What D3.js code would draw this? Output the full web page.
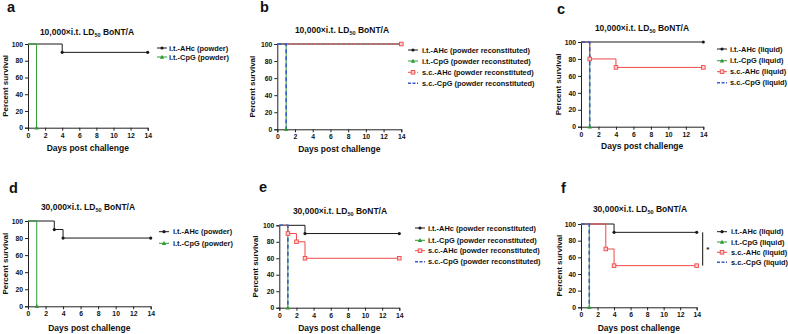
<!DOCTYPE html>
<html><head><meta charset="utf-8">
<script src="https://cdn.jsdelivr.net/npm/d3@7"></script>
<style>
html,body{margin:0;padding:0;background:#fff;}
text{font-family:"Liberation Sans",Arial,sans-serif;font-weight:bold;}
</style></head>
<body><svg id="c" width="788" height="334"></svg>
<script>
// ---------- data ----------
const xTicks = [0,2,4,6,8,10,12,14];
const yTicks = [0,20,40,60,80,100];
const doseLabels = ["10,000", "10,000", "10,000", "30,000", "30,000", "30,000"];
const panelLetters = ["a","b","c","d","e","f"];

// survival step points [day, percent]
const A_itAHc = [[0,100],[4,90],[14,90]];
const A_itCpG = [[0,100],[1,0]];
const B_itAHc = [[0,100],[14,100]];
const B_itCpG = [[0,100],[1,0]];
const B_scAHc = [[0,100],[14,100]];
const B_scCpG = [[0,100],[1,0]];
const C_itAHc = [[0,100],[14,100]];
const C_itCpG = [[0,100],[1,0]];
const C_scAHc = [[0,100],[1,80],[4,70],[14,70]];
const C_scCpG = [[0,100],[1,0]];
const D_itAHc = [[0,100],[3,90],[4,80],[14,80]];
const D_itCpG = [[0,100],[1,0]];
const E_itAHc = [[0,100],[3,90],[14,90]];
const E_itCpG = [[0,100],[1,0]];
const E_scAHc = [[0,100],[1,90],[2,80],[3,60],[14,60]];
const E_scCpG = [[0,100],[1,0]];
const F_itAHc = [[0,100],[4,90],[14,90]];
const F_itCpG = [[0,100],[1,0]];
const F_scAHc = [[0,100],[3,70],[4,50],[14,50]];
const F_scCpG = [[0,100],[1,0]];

const labelsPowder = ["i.t.-AHc (powder)","i.t.-CpG (powder)"];
const labelsRecon = ["i.t.-AHc (powder reconstituted)","i.t.-CpG (powder reconstituted)","s.c.-AHc (powder reconstituted)","s.c.-CpG (powder reconstituted)"];
const labelsLiquid = ["i.t.-AHc (liquid)","i.t.-CpG (liquid)","s.c.-AHc (liquid)","s.c.-CpG (liquid)"];

// ---------- styles ----------
const styles = {
  itAHc:{color:"#1a1a1a", dash:null, marker:"circle"},
  itCpG:{color:"#2f9a35", dash:null, marker:"triangle"},
  scAHc:{color:"#f04848", dash:null, marker:"square"},
  scAHcDash:{color:"#f04848", dash:"3,2", marker:"square"},
  scCpG:{color:"#3a5bc8", dash:"4,3", marker:"none"}
};

const panels = [
 {lx:7, ly:12, tx:87, ty:35, x0:28, x1:147.7, yT:44, yB:127.7, ylabX:5, xlabY:151,
  legX:157, legTX:169, legY:[48,57],
  series:[[A_itAHc,"itAHc",labelsPowder[0]],[A_itCpG,"itCpG",labelsPowder[1]]]},
 {lx:260, ly:12, tx:342, ty:33, x0:277.3, x1:401.3, yT:44, yB:129.3, ylabX:252.5, xlabY:152,
  legX:408, legTX:422, legY:[50,61,72.3,83.3],
  series:[[B_itAHc,"itAHc",labelsRecon[0]],[B_itCpG,"itCpG",labelsRecon[1]],[B_scAHc,"scAHcDash",labelsRecon[2]],[B_scCpG,"scCpG",labelsRecon[3]]]},
 {lx:557, ly:14, tx:642, ty:31, x0:581, x1:703.3, yT:42, yB:126.7, ylabX:558, xlabY:149,
  legX:717, legTX:730, legY:[49,60.7,71.7,82.7],
  series:[[C_itAHc,"itAHc",labelsLiquid[0]],[C_itCpG,"itCpG",labelsLiquid[1]],[C_scAHc,"scAHc",labelsLiquid[2]],[C_scCpG,"scCpG",labelsLiquid[3]]]},
 {lx:9, ly:193, tx:88, ty:210, x0:28, x1:150.7, yT:221, yB:306.3, ylabX:5, xlabY:331,
  legX:159, legTX:173, legY:[231.7,243.3],
  series:[[D_itAHc,"itAHc",labelsPowder[0]],[D_itCpG,"itCpG",labelsPowder[1]]]},
 {lx:259, ly:192, tx:340, ty:214, x0:279.3, x1:399.3, yT:225.3, yB:307.7, ylabX:255, xlabY:331,
  legX:415, legTX:428, legY:[228,240.3,250.7,261.7],
  series:[[E_itAHc,"itAHc",labelsRecon[0]],[E_itCpG,"itCpG",labelsRecon[1]],[E_scAHc,"scAHc",labelsRecon[2]],[E_scCpG,"scCpG",labelsRecon[3]]]},
 {lx:561, ly:193, tx:640, ty:212, x0:581, x1:696.7, yT:224, yB:307.3, ylabX:559, xlabY:331,
  legX:717, legTX:731, legY:[231.7,242,252.3,262.3], bracket:true,
  series:[[F_itAHc,"itAHc",labelsLiquid[0]],[F_itCpG,"itCpG",labelsLiquid[1]],[F_scAHc,"scAHc",labelsLiquid[2]],[F_scCpG,"scCpG",labelsLiquid[3]]]}
];

const svg = d3.select("#c");

function drawMarker(g, type, cx, cy, color){
  if(type==="circle"){
    g.append("circle").attr("cx",cx).attr("cy",cy).attr("r",1.6).attr("fill",color);
  } else if(type==="triangle"){
    const s=2.2;
    g.append("path").attr("d",`M${cx},${cy-s}L${cx+s},${cy+s*0.8}L${cx-s},${cy+s*0.8}Z`).attr("fill",color);
  } else if(type==="square"){
    g.append("rect").attr("x",cx-1.8).attr("y",cy-1.8).attr("width",3.6).attr("height",3.6)
      .attr("fill","#fcd0d0").attr("stroke",color).attr("stroke-width",0.9);
  }
}

panels.forEach((p,i)=>{
  const g = svg.append("g");
  const x = d3.scaleLinear().domain([0,14]).range([p.x0,p.x1]);
  const y = d3.scaleLinear().domain([0,100]).range([p.yB,p.yT]);

  // axes
  const ax = g.append("g").attr("transform",`translate(0,${p.yB})`)
    .call(d3.axisBottom(x).tickValues(xTicks).tickSize(3).tickPadding(2));
  const ay = g.append("g").attr("transform",`translate(${p.x0},0)`)
    .call(d3.axisLeft(y).tickValues(yTicks).tickSize(3).tickPadding(2));
  [ax,ay].forEach(a=>{
    a.attr("font-size",6.8).attr("font-family","Liberation Sans, Arial, sans-serif");
    a.selectAll("path,line").attr("stroke","#222").attr("stroke-width",1);
    a.selectAll("text").attr("fill","#111");
  });

  // panel letter
  g.append("text").attr("x",p.lx).attr("y",p.ly).attr("font-size",14.5).attr("fill","#111").text(panelLetters[i]);
  // title
  const t = g.append("text").attr("x",p.tx).attr("y",p.ty).attr("text-anchor","middle").attr("font-size",8.5).attr("fill","#111");
  t.append("tspan").text(doseLabels[i]+"×i.t. LD");
  t.append("tspan").attr("font-size",5.5).attr("dy",2).text("50");
  t.append("tspan").attr("dy",-2).text(" BoNT/A");

  // series
  const line = d3.line().x(d=>x(d[0])).y(d=>y(d[1])).curve(d3.curveStepAfter);
  p.series.forEach(([data,key])=>{
    const st = styles[key];
    g.append("path").attr("d",line(data)).attr("fill","none").attr("stroke",st.color)
      .attr("stroke-width",key==="scCpG"?1.6:1).attr("stroke-dasharray",st.dash);
  });
  p.series.forEach(([data,key])=>{
    const st = styles[key];
    data.slice(1).forEach(d=>drawMarker(g, st.marker, x(d[0]), y(d[1]), st.color));
  });

  // axis titles
  g.append("text").attr("transform",`translate(${p.ylabX},${(p.yT+p.yB)/2}) rotate(-90)`)
    .attr("text-anchor","middle").attr("dominant-baseline","central").attr("font-size",8).attr("fill","#111").text("Percent survival");
  g.append("text").attr("x",(p.x0+p.x1)/2).attr("y",p.xlabY).attr("text-anchor","middle")
    .attr("font-size",8.5).attr("fill","#111").text("Days post challenge");

  // legend
  p.series.forEach(([data,key,label],j)=>{
    const st = styles[key];
    const ly = p.legY[j];
    g.append("line").attr("x1",p.legX).attr("x2",p.legX+10).attr("y1",ly).attr("y2",ly)
      .attr("stroke",st.color).attr("stroke-width",key==="scCpG"?1.6:1).attr("stroke-dasharray",st.dash?"3,1.5":null);
    drawMarker(g, st.marker, p.legX+5, ly, st.color);
    g.append("text").attr("x",p.legTX).attr("y",ly).attr("dominant-baseline","central")
      .attr("font-size",7.4).attr("fill","#111").text(label);
  });

  if(p.bracket){
    const last = a=>a[a.length-1][1];
    const bx = x(14)+6;
    g.append("line").attr("x1",bx).attr("x2",bx).attr("y1",y(last(F_itAHc))).attr("y2",y(last(F_scAHc)))
      .attr("stroke","#111").attr("stroke-width",1);
    g.append("text").attr("x",bx+5).attr("y",(y(last(F_itAHc))+y(last(F_scAHc)))/2+3.5)
      .attr("text-anchor","middle").attr("font-size",8).attr("fill","#111").text("*");
  }
});
</script></body></html>
